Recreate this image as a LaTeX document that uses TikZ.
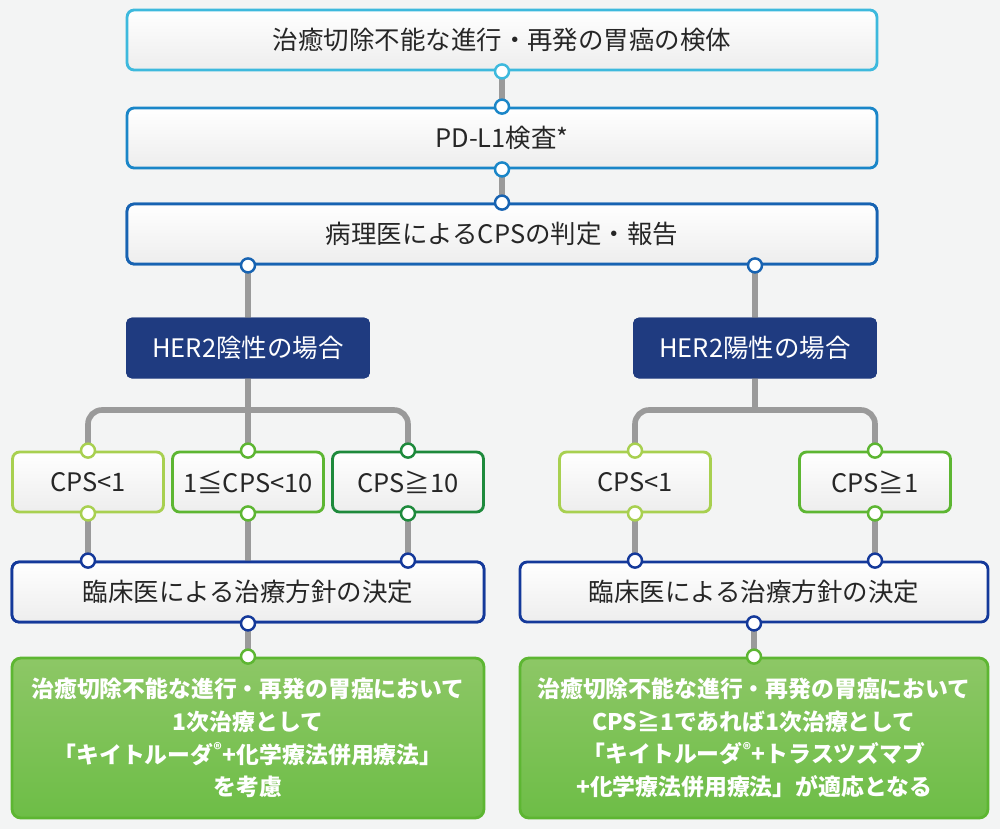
\documentclass[tikz,border=0pt]{standalone}
\usepackage{fontspec}
\setmainfont{Noto Sans CJK JP}
\usetikzlibrary{shadings}
\definecolor{bg}{HTML}{F3F4F4}
\definecolor{cA}{HTML}{3DB9DD}
\definecolor{cB}{HTML}{1A86C8}
\definecolor{cC}{HTML}{1763B2}
\definecolor{cD}{HTML}{14399A}
\definecolor{navy}{HTML}{1F3B80}
\definecolor{gL}{HTML}{A8D050}
\definecolor{gM}{HTML}{5DB632}
\definecolor{gD}{HTML}{1E8A3C}
\definecolor{gF}{HTML}{8DC766}
\definecolor{gray1}{HTML}{9A9A9A}
\tikzset{
 x=0.02cm,y=-0.02cm,
 box/.style={draw=#1,line width=1.6pt,rounded corners=4pt,top color=white,bottom color=black!7,
   font=\fontsize{14.5}{17}\selectfont,text=black!85,inner sep=0pt},
 dark/.style={draw=navy,fill=navy,rounded corners=3pt,text=white,font=\fontsize{14.5}{17}\selectfont,inner sep=0pt},
 green/.style={draw=gM,line width=1.6pt,rounded corners=5pt,top color=gF,bottom color=gM!90,text=white,
   font=\bfseries\fontsize{13}{18.5}\selectfont,align=center,inner sep=0pt},
 conn/.style={draw=gray1,line width=3.2pt},
 dot/.style={circle,draw=#1,fill=white,line width=1.4pt,minimum size=0.28cm,inner sep=0pt},
}
\begin{document}
\begin{tikzpicture}
\fill[bg] (0,0) rectangle (1000,829);
\useasboundingbox (0,0) rectangle (1000,829);
% nodes
\node[box=cA,minimum width=15cm,minimum height=1.2cm] (top) at (502,40) {治癒切除不能な進行・再発の胃癌の検体};
\node[box=cB,minimum width=15cm,minimum height=1.2cm] (pd) at (502,138) {PD-L1検査*};
\node[box=cC,minimum width=15cm,minimum height=1.2cm] (path) at (502,234) {病理医によるCPSの判定・報告};
\node[dark,minimum width=4.86cm,minimum height=1.2cm] (neg) at (248,348) {HER2陰性の場合};
\node[dark,minimum width=4.86cm,minimum height=1.2cm] (pos) at (755,348) {HER2陽性の場合};
\node[box=gL,minimum width=3.02cm,minimum height=1.2cm] (c1) at (88,482) {CPS<1};
\node[box=gM,minimum width=3.02cm,minimum height=1.2cm] (c2) at (248,482) {1≦CPS<10};
\node[box=gD,minimum width=3.02cm,minimum height=1.2cm] (c3) at (408,482) {CPS≧10};
\node[box=gL,minimum width=3.02cm,minimum height=1.2cm] (r1) at (635,482) {CPS<1};
\node[box=gM,minimum width=3.02cm,minimum height=1.2cm] (r2) at (875,482) {CPS≧1};
\node[box=cD,minimum width=9.44cm,minimum height=1.2cm] (k1) at (248,592) {臨床医による治療方針の決定};
\node[box=cD,minimum width=9.36cm,minimum height=1.2cm] (k2) at (754,592) {臨床医による治療方針の決定};
\node[green,minimum width=9.44cm,minimum height=3.2cm] (g1) at (248,738) {治癒切除不能な進行・再発の胃癌において\\1次治療として\\「キイトルーダ\textsuperscript{®}+化学療法併用療法」\\を考慮};
\node[green,minimum width=9.36cm,minimum height=3.2cm] (g2) at (754,738) {治癒切除不能な進行・再発の胃癌において\\CPS≧1であれば1次治療として\\「キイトルーダ\textsuperscript{®}+トラスツズマブ\\+化学療法併用療法」が適応となる};
% connectors
\coordinate (bl) at (248,410);
\coordinate (br) at (755,410);
\begin{scope}[conn]
\draw (top.south) -- (pd.north);
\draw (pd.south) -- (path.north);
\draw (path.south -| neg.north) -- (neg.north);
\draw (path.south -| pos.north) -- (pos.north);
\draw (neg.south) -- (bl);
\draw[rounded corners=8pt] (bl) -| (c1.north);
\draw[rounded corners=8pt] (bl) -| (c3.north);
\draw (bl) -- (c2.north);
\draw (pos.south) -- (br);
\draw[rounded corners=8pt] (br) -| (r1.north);
\draw[rounded corners=8pt] (br) -| (r2.north);
\draw (c1.south) -- (c1.south |- k1.north);
\draw (c2.south) -- (c2.south |- k1.north);
\draw (c3.south) -- (c3.south |- k1.north);
\draw (r1.south) -- (r1.south |- k2.north);
\draw (r2.south) -- (r2.south |- k2.north);
\draw (k1.south) -- (g1.north);
\draw (k2.south) -- (g2.north);
\end{scope}
% redraw boxes over connectors
\node[box=cC,minimum width=15cm,minimum height=1.2cm] at (502,234) {病理医によるCPSの判定・報告};
\node[dark,minimum width=4.86cm,minimum height=1.2cm] at (248,348) {HER2陰性の場合};
\node[dark,minimum width=4.86cm,minimum height=1.2cm] at (755,348) {HER2陽性の場合};
\node[box=cD,minimum width=9.44cm,minimum height=1.2cm] at (248,592) {臨床医による治療方針の決定};
% dots
\node[dot=cA] (d1) at (top.south) {};
\node[dot=cB] (d2) at (pd.north) {};
\node[dot=cB] (d3) at (pd.south) {};
\node[dot=cC] (d4) at (path.north) {};
\node[dot=cC] (d5) at (path.south -| neg.north) {};
\node[dot=cC] (d6) at (path.south -| pos.north) {};
\foreach \n/\c in {c1/gL,c2/gM,c3/gD,r1/gL,r2/gM}{
  \node[dot=\c] (\n t) at (\n.north) {};
  \node[dot=\c] (\n b) at (\n.south) {};
}
\node[dot=cD] (k1a) at (c1.south |- k1.north) {};
\node[dot=cD] (k1b) at (c3.south |- k1.north) {};
\node[dot=cD] (k2a) at (r1.south |- k2.north) {};
\node[dot=cD] (k2b) at (r2.south |- k2.north) {};
\node[dot=cD] (k1s) at (k1.south) {};
\node[dot=cD] (k2s) at (k2.south) {};
\node[dot=gM] (g1n) at (g1.north) {};
\node[dot=gM] (g2n) at (g2.north) {};
\end{tikzpicture}
\end{document}
